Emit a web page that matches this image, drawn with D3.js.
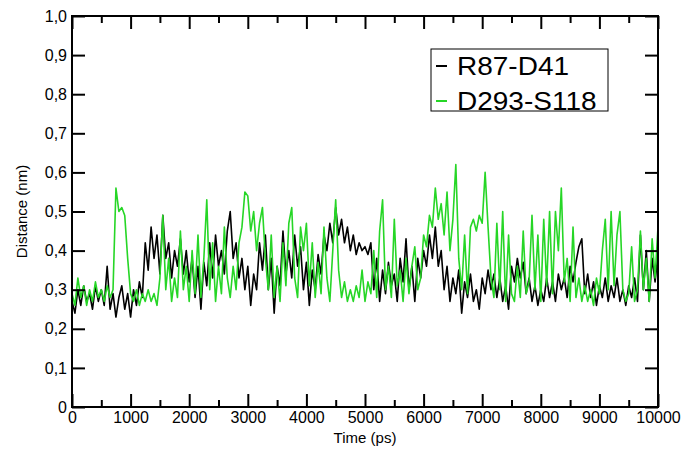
<!DOCTYPE html>
<html>
<head>
<meta charset="utf-8">
<script src="https://cdn.jsdelivr.net/npm/d3@7"></script>
<style>
  body { margin: 0; background: #fff; }
  svg { display: block; font-family: "Liberation Sans", Arial, Helvetica, sans-serif; }
</style>
</head>
<body>
<div id="svgDiv"></div>
<script>
// sampling interval of the traces (ps)
var timeStep = 50;

// R87-D41 distance (nm), one value every 50 ps from 0 to 10000
var r87d41 = [
  0.27,0.24,0.30,0.26,0.31,0.27,0.29,0.25,0.31,0.27,
  0.30,0.26,0.36,0.25,0.29,0.23,0.28,0.31,0.25,0.29,
  0.23,0.30,0.26,0.32,0.28,0.42,0.35,0.46,0.38,0.44,
  0.34,0.49,0.38,0.42,0.33,0.40,0.36,0.43,0.34,0.40,
  0.32,0.38,0.28,0.36,0.25,0.37,0.31,0.42,0.33,0.44,
  0.36,0.40,0.34,0.45,0.50,0.38,0.42,0.33,0.38,0.30,
  0.36,0.26,0.34,0.30,0.42,0.35,0.44,0.30,0.38,0.24,
  0.36,0.31,0.45,0.34,0.40,0.33,0.44,0.36,0.41,0.30,
  0.37,0.26,0.35,0.30,0.39,0.34,0.44,0.40,0.47,0.42,
  0.51,0.44,0.48,0.42,0.46,0.40,0.44,0.39,0.42,0.40,
  0.41,0.39,0.42,0.30,0.38,0.27,0.35,0.29,0.37,0.31,
  0.34,0.27,0.38,0.32,0.43,0.30,0.36,0.27,0.38,0.33,
  0.40,0.36,0.44,0.38,0.46,0.36,0.40,0.30,0.36,0.27,
  0.33,0.29,0.35,0.24,0.32,0.28,0.34,0.27,0.30,0.25,
  0.33,0.29,0.35,0.30,0.34,0.28,0.33,0.27,0.31,0.25,
  0.36,0.32,0.38,0.33,0.37,0.29,0.33,0.27,0.31,0.26,
  0.30,0.27,0.33,0.28,0.32,0.27,0.34,0.30,0.33,0.28,
  0.36,0.32,0.37,0.41,0.43,0.29,0.34,0.28,0.32,0.26,
  0.31,0.28,0.33,0.27,0.31,0.28,0.33,0.27,0.30,0.26,
  0.31,0.28,0.33,0.27,0.44,0.30,0.40,0.27,0.38,0.32,
  0.39
];

// D293-S118 distance (nm), same sampling
var d293s118 = [
  0.29,0.26,0.33,0.28,0.31,0.26,0.30,0.27,0.32,0.28,
  0.30,0.27,0.31,0.28,0.30,0.56,0.50,0.51,0.49,0.38,
  0.29,0.27,0.30,0.26,0.29,0.27,0.30,0.27,0.29,0.26,
  0.33,0.49,0.30,0.38,0.27,0.33,0.28,0.45,0.30,0.36,
  0.27,0.40,0.29,0.44,0.28,0.38,0.53,0.30,0.42,0.27,
  0.36,0.29,0.46,0.33,0.28,0.36,0.30,0.42,0.46,0.55,
  0.54,0.45,0.50,0.40,0.47,0.51,0.38,0.30,0.44,0.28,
  0.36,0.27,0.42,0.31,0.47,0.51,0.33,0.28,0.46,0.40,
  0.47,0.31,0.42,0.28,0.37,0.29,0.46,0.33,0.27,0.40,
  0.53,0.35,0.28,0.32,0.27,0.30,0.27,0.31,0.28,0.35,
  0.27,0.32,0.29,0.40,0.28,0.45,0.53,0.30,0.36,0.28,
  0.48,0.31,0.35,0.27,0.38,0.29,0.36,0.41,0.30,0.33,
  0.44,0.41,0.49,0.46,0.56,0.48,0.52,0.44,0.55,0.40,
  0.48,0.62,0.38,0.30,0.44,0.29,0.46,0.48,0.45,0.49,
  0.47,0.60,0.46,0.33,0.28,0.47,0.30,0.50,0.27,0.44,
  0.29,0.27,0.36,0.28,0.45,0.29,0.32,0.49,0.30,0.44,
  0.27,0.48,0.31,0.50,0.29,0.50,0.40,0.56,0.32,0.38,
  0.27,0.46,0.28,0.33,0.27,0.31,0.27,0.30,0.26,0.33,
  0.29,0.40,0.48,0.30,0.50,0.31,0.44,0.50,0.30,0.27,
  0.29,0.41,0.27,0.30,0.45,0.30,0.38,0.27,0.43,0.33,
  0.46
];

var seriesNames = ["R87-D41", "D293-S118"];
var seriesColors = ["#000000", "#26d626"];
var xTicks = [0, 1000, 2000, 3000, 4000, 5000, 6000, 7000, 8000, 9000, 10000];
var xMinorTicks = [500, 1500, 2500, 3500, 4500, 5500, 6500, 7500, 8500, 9500];
var yTicks = [0, 0.1, 0.2, 0.3, 0.4, 0.5, 0.6, 0.7, 0.8, 0.9, 1.0];

var svgWidth = 686, svgHeight = 457;
var plotLeft = 72, plotRight = 658, plotTop = 16, plotBottom = 407;

var svg = d3.select("#svgDiv").append("svg")
    .attr("width", svgWidth)
    .attr("height", svgHeight);

var xScale = d3.scaleLinear().domain([0, 10000]).range([plotLeft, plotRight]);
var yScale = d3.scaleLinear().domain([0, 1]).range([plotBottom, plotTop]);

var fmtY = d => d === 0 ? "0" : d3.format(".1f")(d).replace(".", ",");

// traces (black first, green drawn on top)
var line = d3.line()
    .x((d, i) => xScale(i * timeStep))
    .y(d => yScale(d));

[r87d41, d293s118].forEach(function(s, k){
    svg.append("path")
        .datum(s)
        .attr("fill", "none")
        .attr("stroke", seriesColors[k])
        .attr("stroke-width", 1.6)
        .attr("stroke-linejoin", "round")
        .attr("d", line);
});

// axes, ticks point inward on all four sides
function styleAxis(g){
    g.select(".domain").remove();
    g.selectAll("line").attr("stroke", "#000").attr("stroke-width", 2);
    g.selectAll("text").attr("fill", "#000").style("font-size", "16px")
        .style("font-family", '"Liberation Sans", Arial, Helvetica, sans-serif');
}

svg.append("g").attr("transform", "translate(0," + plotBottom + ")")
    .call(d3.axisBottom(xScale).tickValues(xTicks).tickSize(-13).tickPadding(5).tickFormat(d3.format("d")))
    .call(styleAxis);
svg.append("g").attr("transform", "translate(0," + plotBottom + ")")
    .call(d3.axisBottom(xScale).tickValues(xMinorTicks).tickSize(-7).tickFormat(""))
    .call(styleAxis);
svg.append("g").attr("transform", "translate(0," + plotTop + ")")
    .call(d3.axisTop(xScale).tickValues(xTicks).tickSize(-13).tickFormat(""))
    .call(styleAxis);
svg.append("g").attr("transform", "translate(0," + plotTop + ")")
    .call(d3.axisTop(xScale).tickValues(xMinorTicks).tickSize(-7).tickFormat(""))
    .call(styleAxis);
svg.append("g").attr("transform", "translate(" + plotLeft + ",0)")
    .call(d3.axisLeft(yScale).tickValues(yTicks).tickSize(-13).tickPadding(5).tickFormat(fmtY))
    .call(styleAxis);
svg.append("g").attr("transform", "translate(" + plotRight + ",0)")
    .call(d3.axisRight(yScale).tickValues(yTicks).tickSize(-13).tickFormat(""))
    .call(styleAxis);

// frame
svg.append("rect")
    .attr("x", plotLeft).attr("y", plotTop)
    .attr("width", plotRight - plotLeft).attr("height", plotBottom - plotTop)
    .attr("fill", "none").attr("stroke", "#000").attr("stroke-width", 2);

// axis titles
svg.append("text")
    .attr("x", (plotLeft + plotRight) / 2).attr("y", 443)
    .attr("text-anchor", "middle")
    .style("font-size", "15px")
    .text("Time (ps)");
svg.append("text")
    .attr("transform", "translate(27," + ((plotTop + plotBottom) / 2) + ") rotate(-90)")
    .attr("text-anchor", "middle")
    .style("font-size", "15px")
    .text("Distance (nm)");

// legend (text in the original is a little wider than Liberation Sans)
var legend = svg.append("g");
legend.append("rect")
    .attr("x", 431).attr("y", 49).attr("width", 177).attr("height", 62)
    .attr("fill", "#fff").attr("stroke", "#000").attr("stroke-width", 1);
seriesNames.forEach(function(name, k){
    var cy = 66 + k * 35;
    legend.append("line")
        .attr("x1", 436).attr("x2", 447)
        .attr("y1", cy).attr("y2", cy)
        .attr("stroke", seriesColors[k]).attr("stroke-width", 2);
    legend.append("text")
        .attr("transform", "translate(457," + (cy + 9) + ") scale(1.12,1)")
        .style("font-size", "25px")
        .text(name);
});
</script>
</body>
</html>
